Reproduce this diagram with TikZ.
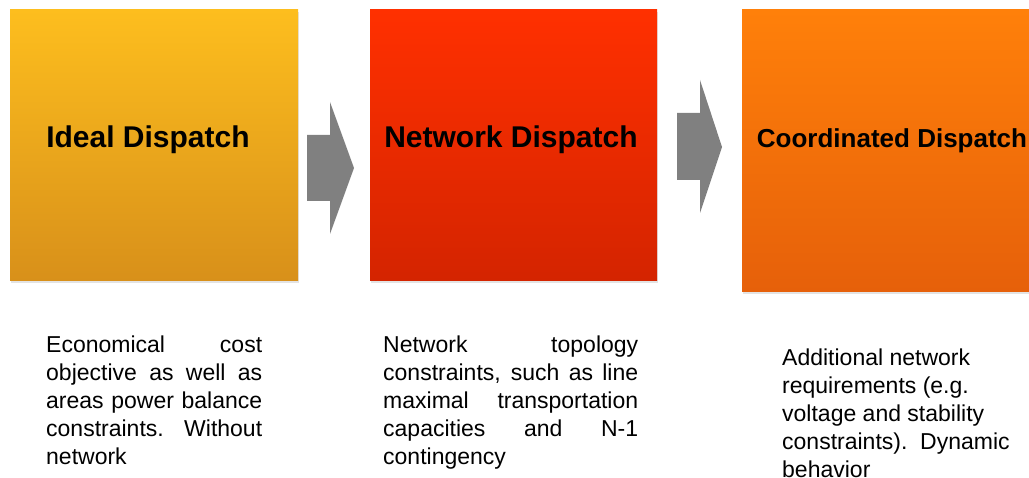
\documentclass[tikz,border=0pt]{standalone}
\usepackage{fontspec}
\setmainfont{Liberation Sans}
\usetikzlibrary{shadows}

\definecolor{idealtop}{RGB}{253,190,30}
\definecolor{idealbot}{RGB}{216,144,26}
\definecolor{nettop}{RGB}{255,48,0}
\definecolor{netbot}{RGB}{212,36,0}
\definecolor{coordtop}{RGB}{255,128,10}
\definecolor{coordbot}{RGB}{230,96,10}
\definecolor{flowgray}{RGB}{128,128,128}

% one justified line of a note
\newcommand{\jline}[2]{\makebox[#1][s]{#2}\\}

\tikzset{
  stage/.style={inner sep=0pt, drop shadow={opacity=0.22,shadow xshift=1pt,shadow yshift=-2pt}},
  head/.style={font=\fontsize{30}{36}\selectfont\bfseries, anchor=base, inner sep=0pt},
  note/.style={font=\fontsize{23}{28}\selectfont, anchor=north west, inner sep=0pt, align=left},
  flow/.style={fill=flowgray}
}

\begin{document}
\begin{tikzpicture}[x=1pt,y=-1pt]
    \useasboundingbox (0,0) rectangle (1029,478);
    % stages
    \node[stage, minimum width=288pt, minimum height=271pt,
          top color=idealtop, bottom color=idealbot] (ideal) at (154,145.5) {};
    \node[stage, minimum width=287pt, minimum height=271pt,
          top color=nettop, bottom color=netbot] (net) at (513.5,145.5) {};
    \node[stage, minimum width=300pt, minimum height=282pt,
          top color=coordtop, bottom color=coordbot] (coord) at (892,151) {};
    \node[head] (idealtxt) at (148,148) {Ideal Dispatch};
    \node[head] (nettxt) at (511,148) {Network Dispatch};
    \node[head, font=\fontsize{26}{32}\selectfont\bfseries] (coordtxt) at (892,148) {Coordinated Dispatch};
    % block arrows
    \fill[flow] (307,135) -- (330,135) -- (330,102) -- (354,168)
        -- (330,234) -- (330,201) -- (307,201) -- cycle;
    \fill[flow] (677,113) -- (700,113) -- (700,80) -- (722,147)
        -- (700,213) -- (700,180) -- (677,180) -- cycle;
    % notes
    \node[note] (idealnote) at (46,336) {%
        \jline{216pt}{Economical cost}%
        \jline{216pt}{objective as well as}%
        \jline{216pt}{areas power balance}%
        \jline{216pt}{constraints. Without}%
        network};
    \node[note] (netnote) at (383,336) {%
        \jline{255pt}{Network topology}%
        \jline{255pt}{constraints, such as line}%
        \jline{255pt}{maximal transportation}%
        \jline{255pt}{capacities and N-1}%
        contingency};
    \node[note] (coordnote) at (782,349) {%
        Additional network\\
        requirements (e.g.\\
        voltage and stability\\
        constraints).\ \ Dynamic\\
        behavior};
\end{tikzpicture}
\end{document}
